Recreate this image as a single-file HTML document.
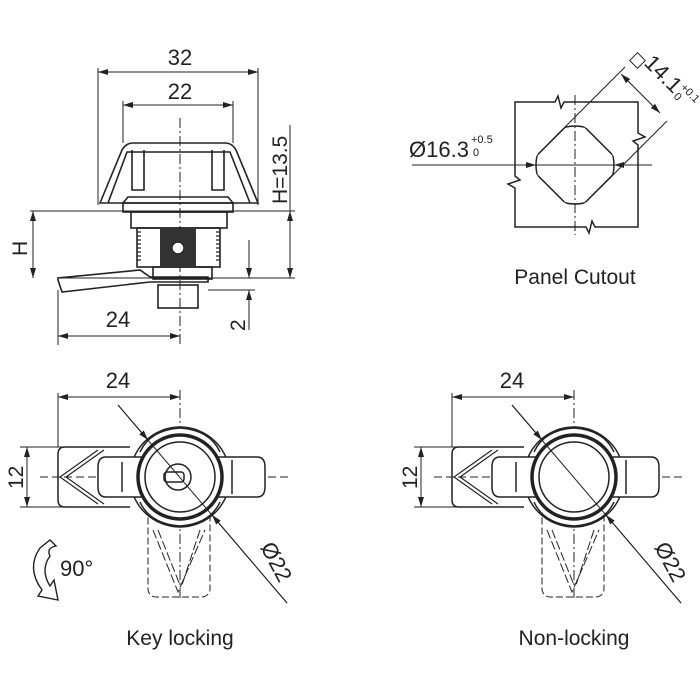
<!DOCTYPE html>
<html><head><meta charset="utf-8"><style>
html,body{margin:0;padding:0;background:#fff;}
svg{display:block;}
text{font-family:"Liberation Sans",Arial,sans-serif;fill:#222;}
</style></head><body>
<svg width="700" height="700" viewBox="0 0 700 700" xmlns="http://www.w3.org/2000/svg">
<defs>
<marker id="a" viewBox="0 0 10 6" refX="10" refY="3" markerWidth="10" markerHeight="6" orient="auto-start-reverse" markerUnits="userSpaceOnUse"><path d="M0,0 L10,3 L0,6 z" fill="#222"/></marker>
<clipPath id="csq"><polygon points="575,117.3 622.7,165 575,212.7 527.3,165"/></clipPath>
<clipPath id="ccir"><circle cx="575" cy="165" r="39"/></clipPath>
</defs>
<g stroke="#222" fill="none" stroke-width="1">
<line x1="98" y1="68" x2="98" y2="205"/><line x1="258" y1="68" x2="258" y2="205"/>
<line x1="98" y1="72" x2="258" y2="72" marker-start="url(#a)" marker-end="url(#a)"/>
<line x1="123" y1="101" x2="123" y2="143"/><line x1="233" y1="101" x2="233" y2="143"/>
<line x1="123" y1="105" x2="233" y2="105" marker-start="url(#a)" marker-end="url(#a)"/>
<line x1="180" y1="118" x2="180" y2="345" stroke-dasharray="10,3,2,3"/>
<g stroke-width="1.6">
<path d="M100,203 L122,150 Q126,143 133,143 L225,143 Q232,143 236,150 L258,203 Z"/>
<path d="M108,203 L127,152 L230,152 L250,203"/>
<path d="M132,150 L132,190 L144,190 L144,150 M224,150 L224,190 L212,190 L212,150"/>
<path d="M123,203 L128,197 L228,197 L233,203"/>
<rect x="123" y="203" width="110" height="9"/>
<rect x="131" y="212" width="96" height="16"/>
<rect x="137" y="228" width="83" height="39"/>
<rect x="153" y="267" width="59" height="12"/>
<rect x="158" y="285" width="40" height="23"/>
<path d="M58,280 L62,292 L150,282 L208,282 L208,277 L150,277 L140,270 L58,278 Z"/>
</g>
<rect x="160" y="229" width="36" height="38" fill="#333" stroke="none"/>
<g stroke-width="1.2">
<path d="M137,232 h4 M137,236 h4 M137,240 h4 M137,244 h4 M137,248 h4 M137,252 h4 M137,256 h4 M137,260 h4 M216,232 h4 M216,236 h4 M216,240 h4 M216,244 h4 M216,248 h4 M216,252 h4 M216,256 h4 M216,260 h4"/>
</g>
<circle cx="178" cy="248" r="6" fill="#fff" stroke-width="1.4"/>
<line x1="30" y1="211" x2="295" y2="211"/>
<line x1="58" y1="278" x2="295" y2="278"/>
<line x1="33" y1="211" x2="33" y2="278" marker-start="url(#a)" marker-end="url(#a)"/>
<line x1="290" y1="125" x2="290" y2="211"/>
<line x1="290" y1="211" x2="290" y2="278" marker-start="url(#a)" marker-end="url(#a)"/>
<line x1="208" y1="290" x2="255" y2="290"/>
<line x1="249" y1="240" x2="249" y2="278" marker-end="url(#a)"/>
<line x1="249" y1="330" x2="249" y2="290" marker-end="url(#a)"/>
<line x1="58" y1="290" x2="58" y2="345"/>
<line x1="58" y1="336" x2="180" y2="336" marker-start="url(#a)" marker-end="url(#a)"/>

<g stroke-width="1.5">
<path d="M515,102 L555,102 L558,96 L561,108 L564,102 L638,102 L638,133 L645,137 L633,141 L638,145 L638,227 L595,227 L592,221 L589,233 L586,227 L515,227 L515,188 L508,184 L520,180 L515,176 Z"/>
<circle cx="575" cy="165" r="39" clip-path="url(#csq)"/>
<polygon points="575,117.3 622.7,165 575,212.7 527.3,165" clip-path="url(#ccir)"/>
</g>
<line x1="575" y1="95" x2="575" y2="235" stroke-dasharray="10,3,2,3"/>
<line x1="412" y1="165" x2="651" y2="165"/>
<line x1="500" y1="165" x2="536" y2="165" marker-end="url(#a)"/>
<line x1="652" y1="165" x2="614" y2="165" marker-end="url(#a)"/>
<line x1="551" y1="141" x2="625" y2="67"/>
<line x1="599" y1="189" x2="667" y2="121"/>
<line x1="621" y1="74" x2="660" y2="113" marker-start="url(#a)" marker-end="url(#a)"/>
<rect x="632" y="55" width="11" height="11" transform="rotate(45 637.5 60.5)"/>

<g id="lock">
<line x1="58" y1="393" x2="58" y2="447"/>
<line x1="180" y1="390" x2="180" y2="600" stroke-dasharray="10,3,2,3"/>
<line x1="58" y1="397" x2="180" y2="397" marker-start="url(#a)" marker-end="url(#a)"/>
<line x1="20" y1="447" x2="130" y2="447"/><line x1="20" y1="507" x2="130" y2="507"/>
<line x1="27" y1="447" x2="27" y2="507" marker-start="url(#a)" marker-end="url(#a)"/>
<line x1="40" y1="477" x2="290" y2="477" stroke-dasharray="8,4"/>
<g stroke-width="1.5">
<rect x="148" y="505" width="62" height="92" rx="8" stroke-dasharray="7,3" stroke-width="1"/>
<path d="M153,530 L178,592 L205,530 M158,530 L180,585 M200,530 L182,585" stroke-width="1" stroke-dasharray="9,3"/>
<path d="M130,447 L65,447 Q58,447 58,454 L58,500 Q58,507 65,507 L130,507"/>
<path d="M60,477 L98,450 M60,477 L98,504 M66,477 L104,450 M66,477 L104,504" stroke-width="1.1"/>
<circle cx="180" cy="477" r="50" fill="#fff"/>
<path d="M106,457 L257,457 Q265,457 265,467 L265,487 Q265,497 257,497 L106,497 Q98,497 98,487 L98,467 Q98,457 106,457 Z" fill="#fff"/>
<path d="M140,452 Q150,430 180,428 Q210,430 220,452 M140,502 Q150,524 180,526 Q210,524 220,502" fill="#fff" stroke-width="1.5"/>
<circle cx="180" cy="477" r="42" stroke-width="3.5" fill="#fff"/>
<circle cx="180" cy="477" r="35"/>
<line x1="122" y1="462" x2="122" y2="492"/>
<line x1="232" y1="460" x2="232" y2="494"/>
</g>
<line x1="118" y1="405" x2="287" y2="603"/>
<line x1="118" y1="405" x2="148" y2="440" marker-end="url(#a)"/>
<line x1="287" y1="603" x2="212" y2="515" marker-end="url(#a)"/>
</g>
<g transform="translate(394,0)">
<use href="#lock"/>
</g>
<g stroke-width="1.5">
<circle cx="178" cy="477" r="13"/>
<rect x="164" y="472" width="20" height="10" rx="3"/>
</g>
<path d="M40,548 Q26,568 42,590 L38,596 L58,600 L54,580 L50,586 Q40,570 50,556 Q46,548 56,546 L50,540 Z" stroke-width="1.4"/>
</g>
<text x="180" y="65" font-size="22" text-anchor="middle">32</text>
<text x="180" y="99" font-size="22" text-anchor="middle">22</text>
<text transform="translate(287,204) rotate(-90)" font-size="21">H=13.5</text>
<text transform="translate(27,256) rotate(-90)" font-size="21">H</text>
<text transform="translate(245,331) rotate(-90)" font-size="21">2</text>
<text x="118" y="327" font-size="22" text-anchor="middle">24</text>
<text x="118" y="388" font-size="22" text-anchor="middle">24</text>
<text x="512" y="388" font-size="22" text-anchor="middle">24</text>
<text transform="translate(23,489) rotate(-90)" font-size="21">12</text>
<text transform="translate(417,489) rotate(-90)" font-size="21">12</text>
<text transform="translate(260,547) rotate(62)" font-size="22">Ø22</text>
<text transform="translate(654,547) rotate(62)" font-size="22">Ø22</text>
<text x="60" y="576" font-size="22">90°</text>
<text x="180" y="645" font-size="21" text-anchor="middle">Key locking</text>
<text x="574" y="645" font-size="21" text-anchor="middle">Non-locking</text>
<text x="409" y="157" font-size="22">Ø16.3</text>
<text x="471" y="143" font-size="11">+0.5</text>
<text x="473" y="156" font-size="11">0</text>
<text transform="translate(643,64) rotate(45)" font-size="22">14.1</text>
<text transform="translate(680,88) rotate(45)" font-size="11">+0.1</text>
<text transform="translate(673,97) rotate(45)" font-size="11">0</text>
<text x="575" y="284" font-size="21" text-anchor="middle">Panel Cutout</text>
</svg>
</body></html>
